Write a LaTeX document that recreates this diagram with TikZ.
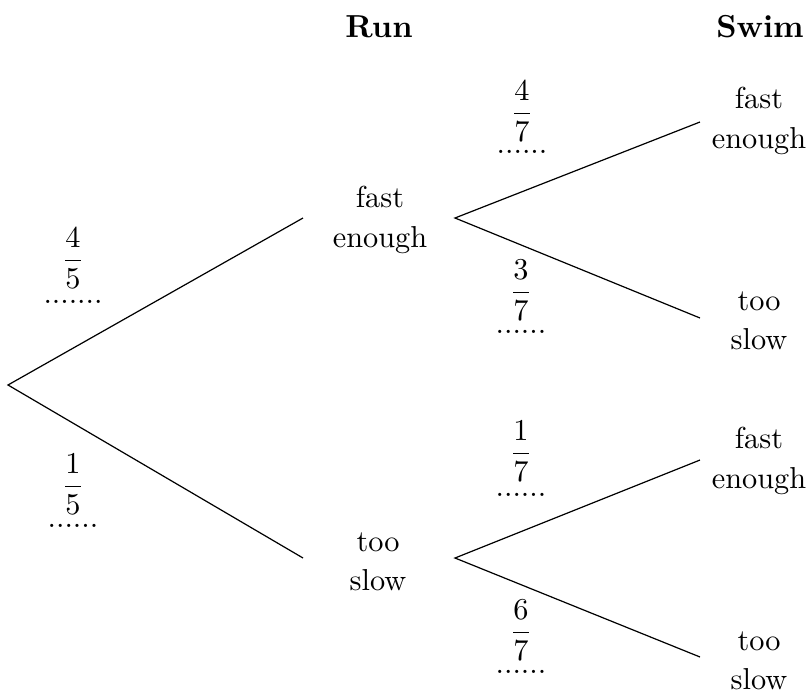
\documentclass[tikz,border=0pt]{standalone}
\usepackage{amsmath}
\begin{document}
\begin{tikzpicture}[x=0.33pt,y=-0.33pt,
  lab/.style={align=center,font=\fontsize{10}{13}\selectfont,inner sep=0pt},
  head/.style={font=\fontsize{10.5}{13}\selectfont\bfseries,inner sep=0pt},
  fracl/.style={anchor=base,inner sep=0pt},
  dotl/.style={anchor=base,inner sep=0pt},
  branch/.style={line width=0.4pt}]
\useasboundingbox (0,0) rectangle (807,699);
% headers
\node[head] (run) at (379,27) {Run};
\node[head] (swim) at (760,27) {Swim};
% nodes
\node[lab] (rfe) at (380,220) {fast\\enough};
\node[lab] (rts) at (378,562) {too\\slow};
\node[lab] (s1) at (759,121) {fast\\enough};
\node[lab] (s2) at (759,321) {too\\slow};
\node[lab] (s3) at (759,461) {fast\\enough};
\node[lab] (s4) at (759,661) {too\\slow};
% connector ends
\coordinate (root) at (8,385);
\coordinate (rfe-in) at (303,218);
\coordinate (rts-in) at (303,558);
\coordinate (rfe-out) at (455,218);
\coordinate (rts-out) at (455,558);
\coordinate (s1-in) at (700,122);
\coordinate (s2-in) at (700,318);
\coordinate (s3-in) at (700,460);
\coordinate (s4-in) at (700,657);
\draw[branch] (rfe-in) -- (root) -- (rts-in);
\draw[branch] (s1-in) -- (rfe-out) -- (s2-in);
\draw[branch] (s3-in) -- (rts-out) -- (s4-in);
% probabilities
\node[fracl] (p1) at (73,268) {$\dfrac{4}{5}$};
\node[dotl] (d1) at (73,303) {.......};
\node[fracl] (p2) at (73,494) {$\dfrac{1}{5}$};
\node[dotl] (d2) at (73,527) {......};
\node[fracl] (p3) at (522,121) {$\dfrac{4}{7}$};
\node[dotl] (d3) at (522,153) {......};
\node[fracl] (p4) at (521,300) {$\dfrac{3}{7}$};
\node[dotl] (d4) at (521,333) {......};
\node[fracl] (p5) at (521,461) {$\dfrac{1}{7}$};
\node[dotl] (d5) at (521,496) {......};
\node[fracl] (p6) at (521,640) {$\dfrac{6}{7}$};
\node[dotl] (d6) at (521,673) {......};
\end{tikzpicture}
\end{document}
